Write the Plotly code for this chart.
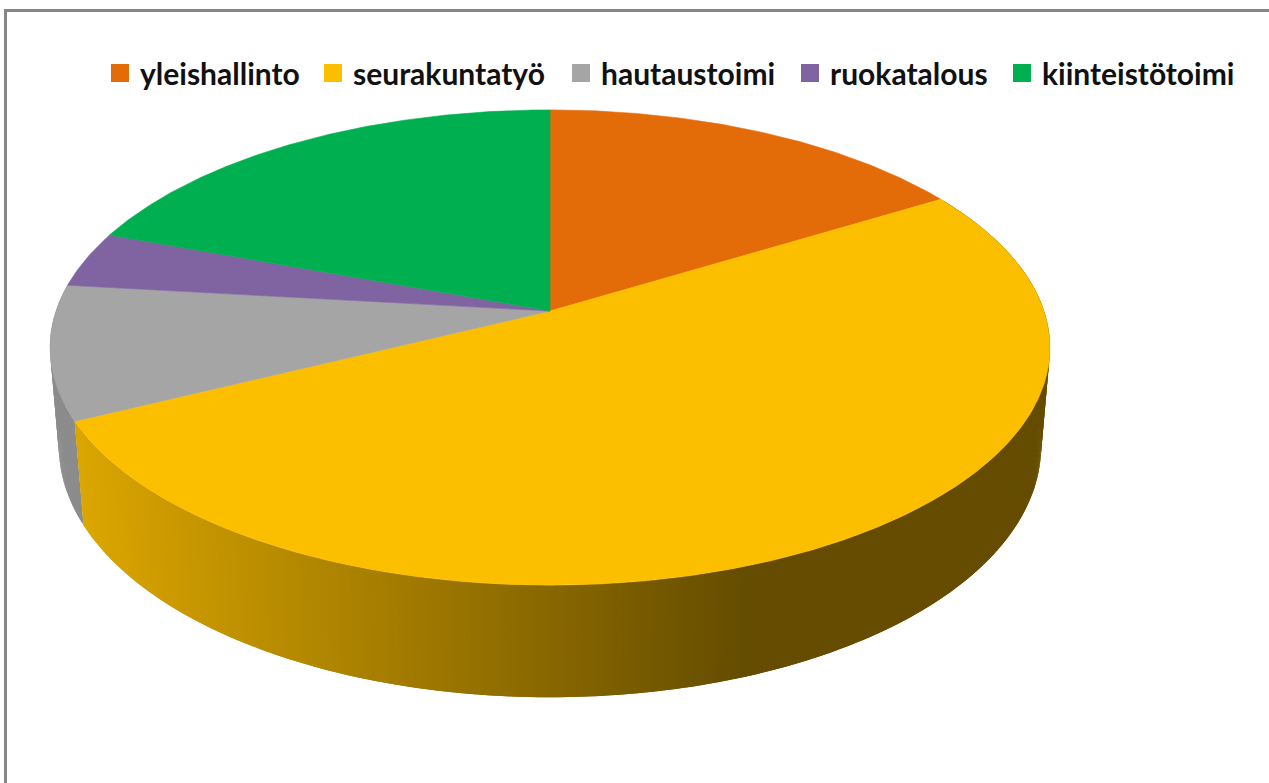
import math
import plotly.graph_objects as go

categories = ["yleishallinto", "seurakuntatyö", "hautaustoimi", "ruokatalous", "kiinteistötoimi"]
values = [16.3, 51.4, 9.1, 3.8, 19.4]
top_colors = ["#e36c09", "#fcbf00", "#a5a5a5", "#8064a2", "#00b050"]
side_base = [(227, 108, 9), (252, 191, 0), (140, 140, 140), (128, 100, 162), (0, 176, 80)]
legend_left = [100, 313, 561, 790, 1002]

# view of the tilted disc, in page pixels
CX, CY, A, B, K = 550.0, 311.0, 232.0, 494.0, 0.1537
NADIR_Y = 6000.0


def top_pt(deg):
    t = math.radians(deg)
    u, v = math.sin(t), -math.cos(t)
    w = 1 - K * v
    return CX + B * u / w, CY + A * v / w


def bottom_pt(deg):
    x, y = top_pt(deg)
    v = -math.cos(math.radians(deg))
    s = 0.0170 + 0.0037 * v
    return x + (CX - x) * s, y + (NADIR_Y - y) * s


def frange(a, b, step):
    n = max(1, int(math.ceil((b - a) / step)))
    return [a + (b - a) * i / n for i in range(n + 1)]


def shade(x):
    return 0.87 + (0.40 - 0.87) * (min(max(x, 75), 745) - 75) / (745 - 75)


total = sum(values)
edges = [0.0]
for val in values:
    edges.append(edges[-1] + val / total * 360)

fig = go.Figure()

# rim of the disc: only the slices facing the viewer
for idx in (2, 1):
    gradient = idx == 1
    angs = frange(edges[idx], edges[idx + 1], 0.5)
    for i in range(len(angs) - 1):
        a0, a1 = angs[i], angs[min(i + 2, len(angs) - 1)]
        xa, ya = top_pt(a0)
        xb, yb = top_pt(a1)
        xc, yc = bottom_pt(a1)
        xd, yd = bottom_pt(a0)
        f = shade((xa + xb) / 2) if gradient else 1.0
        r, g, bl = [int(round(c * f)) for c in side_base[idx]]
        fig.add_trace(go.Scatter(
            x=[xa, xb, xc, xd, xa], y=[ya, yb, yc, yd, ya], mode="lines", fill="toself",
            fillcolor=f"rgb({r},{g},{bl})", line=dict(width=0), hoverinfo="skip", showlegend=False))

# top face
for idx, name in enumerate(categories):
    angs = frange(edges[idx], edges[idx + 1], 0.5)
    pts = [top_pt(t) for t in angs]
    xs = [CX] + [p[0] for p in pts] + [CX]
    ys = [CY] + [p[1] for p in pts] + [CY]
    fig.add_trace(go.Scatter(
        x=xs, y=ys, mode="lines", fill="toself", fillcolor=top_colors[idx],
        line=dict(width=0.6, color=top_colors[idx]), name=name, hoverinfo="name", showlegend=False))

# legend keys: one small legend per category so the spacing can follow the reference
legend_layout = {}
for i, (name, col, left) in enumerate(zip(categories, top_colors, legend_left)):
    key = "legend" if i == 0 else f"legend{i + 1}"
    fig.add_trace(go.Scatter(
        x=[None], y=[None], mode="markers", name=name, legend=key,
        marker=dict(symbol="square", size=16, color=col, line=dict(width=2, color=col))))
    legend_layout[key] = dict(
        x=left / 1269, y=1 - 47 / 783, xanchor="left", yanchor="top",
        font=dict(family="Lato", size=30, color="#111111", weight="bold"),
        itemwidth=30, itemclick=False, itemdoubleclick=False, bgcolor="rgba(0,0,0,0)")

fig.update_layout(
    width=1269, height=783, autosize=False,
    margin=dict(l=0, r=0, t=0, b=0),
    paper_bgcolor="white", plot_bgcolor="white",
    xaxis=dict(range=[0, 1269], visible=False, fixedrange=True),
    yaxis=dict(range=[783, 0], visible=False, fixedrange=True),
    shapes=[dict(type="rect", xref="paper", yref="paper",
                 x0=5.5 / 1269, x1=1.01, y0=-0.01, y1=1 - 10.5 / 783,
                 line=dict(color="#868686", width=3), fillcolor="rgba(0,0,0,0)")],
    showlegend=True,
    **legend_layout,
)

fig.write_html("out.html", config={"displayModeBar": False},
               post_script="document.body.style.margin='0';document.body.style.overflow='hidden';")
